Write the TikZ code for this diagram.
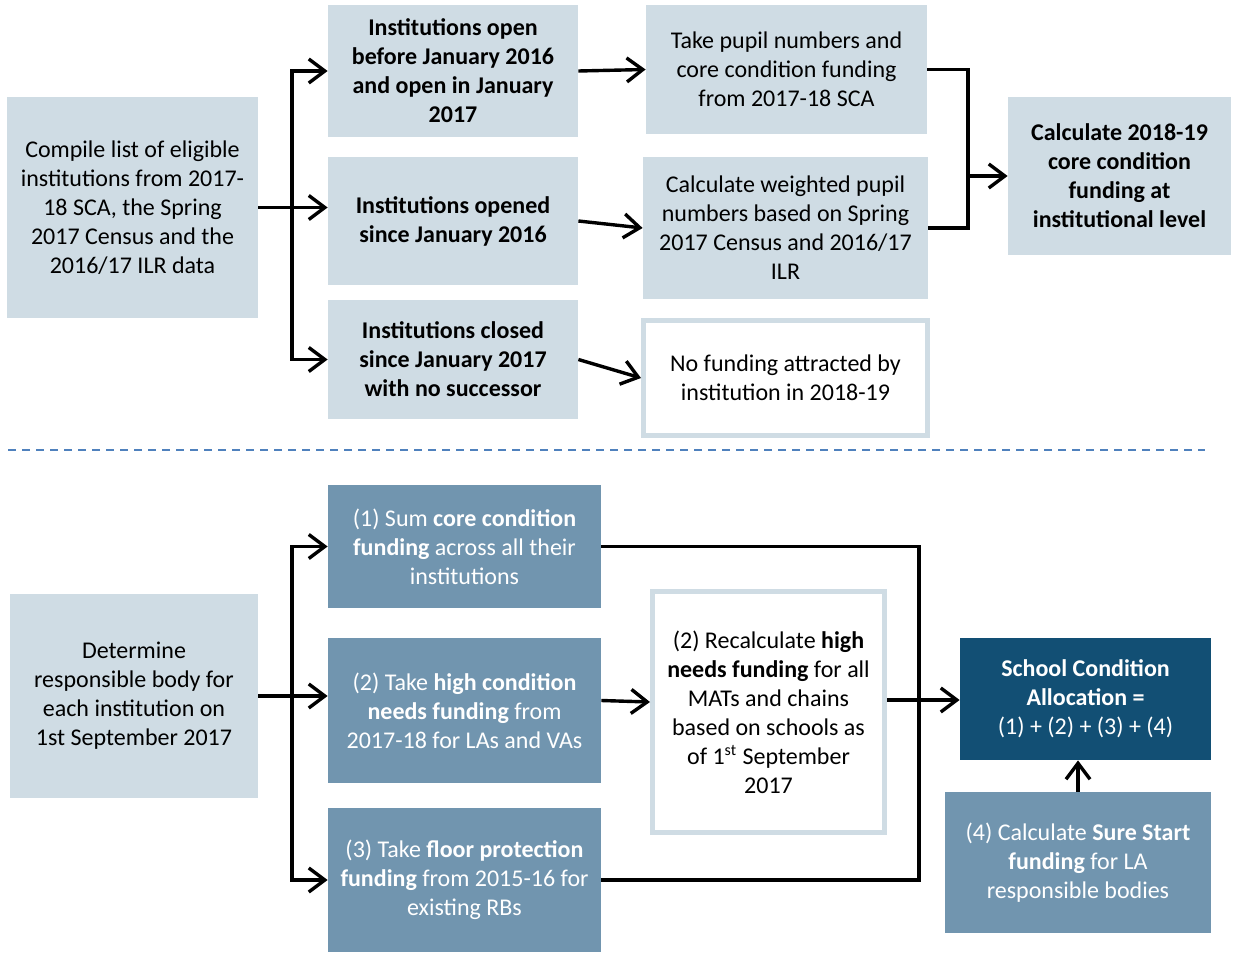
\documentclass[tikz,border=0pt]{standalone}
\usepackage{fontspec}
\setmainfont{Carlito}
\usetikzlibrary{arrows.meta,positioning}
\definecolor{lightbox}{RGB}{207,220,228}
\definecolor{midbox}{RGB}{113,149,175}
\definecolor{darkbox}{RGB}{18,79,116}
\definecolor{dashblue}{RGB}{79,129,189}
\begin{document}
\begin{tikzpicture}[x=0.5pt,y=-0.5pt,
				light node/.style = {rectangle, fill=lightbox, inner sep=0pt, align=center, font=\fontsize{12}{14.5}\selectfont},
				mid node/.style = {rectangle, fill=midbox, text=white, inner sep=0pt, align=center, font=\fontsize{12}{14.5}\selectfont},
				dark node/.style = {rectangle, fill=darkbox, text=white, inner sep=0pt, align=center, font=\fontsize{12}{14.5}\selectfont},
				white node/.style = {rectangle, fill=white, draw=lightbox, line width=2.5pt, inner sep=0pt, align=center, font=\fontsize{12}{14.5}\selectfont},
				flow/.style = {line width=1.7pt, -{Straight Barb[length=8pt,width=12pt]}},
				plain flow/.style = {line width=1.7pt}]
				
				\useasboundingbox (0,0) rectangle (1235,953);
				
				% top part
				\node[light node, minimum width=125.5pt, minimum height=110.5pt] at (132.5,207.5) (1) {Compile list of eligible\\institutions from 2017-\\18 SCA, the Spring\\2017 Census and the\\2016/17 ILR data};
				\node[light node, minimum width=125pt, minimum height=66pt, font=\fontsize{12}{14.5}\selectfont\bfseries] at (453,71) (2) {Institutions open\\before January 2016\\and open in January\\2017};
				\node[light node, minimum width=125pt, minimum height=64pt, font=\fontsize{12}{14.5}\selectfont\bfseries] at (453,221) (3) {Institutions opened\\since January 2016};
				\node[light node, minimum width=125pt, minimum height=59.5pt, font=\fontsize{12}{14.5}\selectfont\bfseries] at (453,359.5) (4) {Institutions closed\\since January 2017\\with no successor};
				\node[light node, minimum width=140.5pt, minimum height=64.5pt] at (786.5,69.5) (5) {Take pupil numbers and\\core condition funding\\from 2017-18 SCA};
				\node[light node, minimum width=142.5pt, minimum height=71pt] at (785.5,228) (6) {Calculate weighted pupil\\numbers based on Spring\\2017 Census and 2016/17\\ILR};
				\node[white node, minimum width=142pt, minimum height=57.5pt] at (785.5,378) (7) {No funding attracted by\\institution in 2018-19};
				\node[light node, minimum width=111.5pt, minimum height=79pt, font=\fontsize{12}{14.5}\selectfont\bfseries] at (1119.5,176) (8) {Calculate 2018-19\\core condition\\funding at\\institutional level};
				
				\coordinate (16) at (292,207.5);
				\coordinate (17) at (968,69.5);
				\draw[plain flow] (1.east) -- (16);
				\draw[flow] (16) |- (2.west);
				\draw[flow] (16) -- (16 -| 3.west);
				\draw[flow] (16) |- (4.west);
				\draw[flow] (2.east) -- (5.west);
				\draw[flow] (3.east) -- (6.west);
				\draw[flow] (4.east) -- (7.west);
				\draw[plain flow] (5.east) -- (17) |- (6.east);
				\draw[flow] (17 |- 8.west) -- (8.west);
				
				\draw[dashblue, line width=0.75pt, dash pattern=on 4pt off 3pt] (8,450) -- (1205,450);
				
				% bottom part
				\node[light node, minimum width=124pt, minimum height=102pt] at (134,696) (9) {Determine\\responsible body for\\each institution on\\1st September 2017};
				\node[mid node, minimum width=136.5pt, minimum height=61.5pt] at (464.5,546.5) (10) {(1) Sum \textbf{core condition}\\\textbf{funding} across all their\\institutions};
				\node[mid node, minimum width=136.5pt, minimum height=72.5pt] at (464.5,710.5) (11) {(2) Take \textbf{high condition}\\\textbf{needs funding} from\\2017-18 for LAs and VAs};
				\node[mid node, minimum width=136.5pt, minimum height=72pt] at (464.5,880) (12) {(3) Take \textbf{floor protection}\\\textbf{funding} from 2015-16 for\\existing RBs};
				\node[white node, minimum width=116pt, minimum height=120.5pt] at (768.5,712) (13) {(2) Recalculate \textbf{high}\\\textbf{needs funding} for all\\MATs and chains\\based on schools as\\of 1\textsuperscript{st} September\\2017};
				\node[dark node, minimum width=125.5pt, minimum height=61pt] at (1085.5,699) (14) {\textbf{School Condition}\\\textbf{Allocation =}\\(1) + (2) + (3) + (4)};
				\node[mid node, minimum width=133pt, minimum height=70.5pt] at (1078,862.5) (15) {(4) Calculate \textbf{Sure Start}\\\textbf{funding} for LA\\responsible bodies};
				
				\coordinate (18) at (292,696);
				\coordinate (19) at (919,546.5);
				\draw[plain flow] (9.east) -- (18);
				\draw[flow] (18) |- (10.west);
				\draw[flow] (18) -- (18 -| 11.west);
				\draw[flow] (18) |- (12.west);
				\draw[flow] ([yshift=5pt]11.east) -- ([yshift=5pt]13.west);
				\draw[plain flow] (10.east) -- (19) |- (12.east);
				\draw[flow] ([yshift=6pt]13.east) -- ([yshift=6pt]13.east -| 14.west);
				\draw[flow] (15.north) -- (15.north |- 14.south);
				
				\end{tikzpicture}
\end{document}
